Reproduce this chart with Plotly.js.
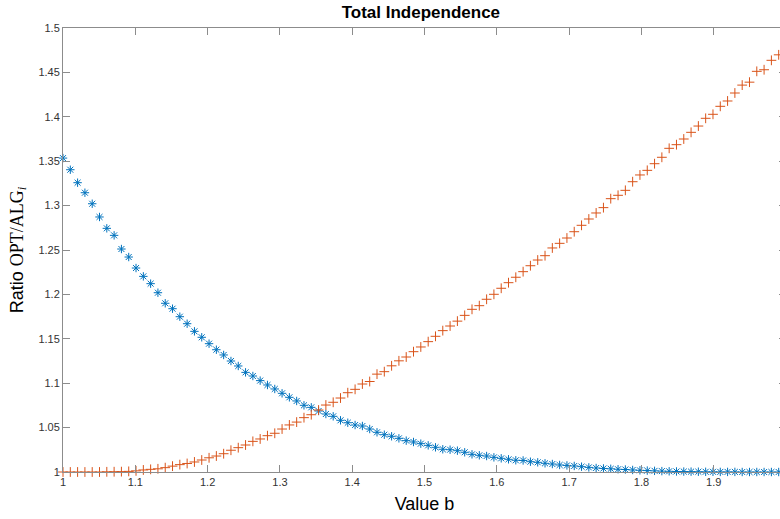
<!DOCTYPE html>
<html>
<head>
<meta charset="utf-8">
<script src="https://cdn.plot.ly/plotly-3.0.1.min.js"></script>
<style>
html, body { margin: 0; padding: 0; overflow: hidden; background: #fff; }
#chart { width: 790px; height: 519px; }
</style>
</head>
<body>
<div id="chart"></div>
<script>
// b values (100 samples from 1 to 2)
const bValues = [
1.0000,1.0101,1.0202,1.0303,1.0404,1.0505,1.0606,1.0707,1.0808,1.0909,
1.1010,1.1111,1.1212,1.1313,1.1414,1.1515,1.1616,1.1717,1.1818,1.1919,
1.2020,1.2121,1.2222,1.2323,1.2424,1.2525,1.2626,1.2727,1.2828,1.2929,
1.3030,1.3131,1.3232,1.3333,1.3434,1.3535,1.3636,1.3737,1.3838,1.3939,
1.4040,1.4141,1.4242,1.4343,1.4444,1.4545,1.4646,1.4747,1.4848,1.4949,
1.5051,1.5152,1.5253,1.5354,1.5455,1.5556,1.5657,1.5758,1.5859,1.5960,
1.6061,1.6162,1.6263,1.6364,1.6465,1.6566,1.6667,1.6768,1.6869,1.6970,
1.7071,1.7172,1.7273,1.7374,1.7475,1.7576,1.7677,1.7778,1.7879,1.7980,
1.8081,1.8182,1.8283,1.8384,1.8485,1.8586,1.8687,1.8788,1.8889,1.8990,
1.9091,1.9192,1.9293,1.9394,1.9495,1.9596,1.9697,1.9798,1.9899,2.0000];

// Series 1 (blue asterisks), decreasing
const ratioAlg1 = [
1.3535,1.3404,1.3258,1.3145,1.3021,1.2872,1.2744,1.2665,1.2511,1.2421,
1.2297,1.2203,1.2121,1.2019,1.1900,1.1839,1.1749,1.1670,1.1584,1.1517,
1.1445,1.1377,1.1318,1.1250,1.1194,1.1122,1.1081,1.1029,1.0980,1.0935,
1.0886,1.0841,1.0800,1.0751,1.0728,1.0687,1.0653,1.0627,1.0582,1.0555,
1.0529,1.0518,1.0484,1.0447,1.0420,1.0402,1.0379,1.0353,1.0338,1.0319,
1.0300,1.0278,1.0256,1.0251,1.0240,1.0222,1.0199,1.0188,1.0180,1.0165,
1.0154,1.0143,1.0132,1.0130,1.0116,1.0109,1.0098,1.0090,1.0079,1.0074,
1.0068,1.0060,1.0052,1.0045,1.0040,1.0036,1.0031,1.0028,1.0023,1.0019,
1.0016,1.0013,1.0010,1.0008,1.0006,1.0005,1.0004,1.0003,1.0002,1.0002,
1.0001,1.0001,1.0001,1.0000,1.0000,1.0000,1.0000,1.0000,1.0000,1.0000];

// Series 2 (orange plus signs), increasing
const ratioAlg2 = [
1.0000,1.0000,1.0000,1.0000,1.0000,1.0000,1.0002,1.0003,1.0004,1.0007,
1.0013,1.0023,1.0030,1.0036,1.0049,1.0066,1.0083,1.0096,1.0113,1.0135,
1.0160,1.0180,1.0206,1.0245,1.0274,1.0304,1.0345,1.0372,1.0409,1.0436,
1.0484,1.0530,1.0562,1.0612,1.0645,1.0698,1.0754,1.0785,1.0833,1.0893,
1.0931,1.0991,1.1019,1.1102,1.1130,1.1196,1.1252,1.1295,1.1355,1.1408,
1.1468,1.1528,1.1592,1.1644,1.1699,1.1764,1.1832,1.1873,1.1945,1.2001,
1.2069,1.2132,1.2193,1.2256,1.2323,1.2387,1.2436,1.2523,1.2575,1.2635,
1.2706,1.2778,1.2849,1.2917,1.2977,1.3078,1.3116,1.3172,1.3269,1.3345,
1.3397,1.3472,1.3544,1.3645,1.3686,1.3750,1.3825,1.3896,1.3983,1.4028,
1.4118,1.4178,1.4268,1.4357,1.4390,1.4512,1.4530,1.4636,1.4698,1.4760];

const xTicks = [1, 1.1, 1.2, 1.3, 1.4, 1.5, 1.6, 1.7, 1.8, 1.9];
const yTicks = [1, 1.05, 1.1, 1.15, 1.2, 1.25, 1.3, 1.35, 1.4, 1.45, 1.5];

const traces = [
  {
    x: bValues, y: ratioAlg1, type: 'scatter', mode: 'markers',
    marker: { symbol: 'asterisk-open', size: 7, color: '#0072BD',
              line: { color: '#0072BD', width: 1 } },
    cliponaxis: false, showlegend: false
  },
  {
    x: bValues, y: ratioAlg2, type: 'scatter', mode: 'markers',
    marker: { symbol: 'cross-thin-open', size: 7, color: '#D95319',
              line: { color: '#D95319', width: 1 } },
    cliponaxis: false, showlegend: false
  }
];

const axisCommon = {
  showgrid: false, zeroline: false, showline: true,
  linecolor: '#8c8c8c', linewidth: 1,
  ticks: 'inside', ticklen: 7, tickwidth: 1, tickcolor: '#8c8c8c',
  mirror: 'ticks',
  tickfont: { family: 'Liberation Sans, Arial, sans-serif', size: 11, color: '#333333' }
};

const layout = {
  width: 790, height: 519,
  margin: { l: 63, r: 4, t: 28, b: 47, pad: 0 },
  paper_bgcolor: '#ffffff', plot_bgcolor: '#ffffff',
  title: {
    text: '<b>Total Independence</b>',
    font: { family: 'Liberation Sans, Arial, sans-serif', size: 17, color: '#000' },
    xref: 'paper', x: 0.495, xanchor: 'center',
    yref: 'container', y: 0.977, yanchor: 'middle'
  },
  xaxis: Object.assign({}, axisCommon, {
    range: [1, 2], tickvals: xTicks,
    title: { text: 'Value b', font: { family: 'Liberation Sans, Arial, sans-serif', size: 18, color: '#000' }, standoff: 10 }
  }),
  yaxis: Object.assign({}, axisCommon, {
    range: [1, 1.5], tickvals: yTicks,
    title: { text: 'Ratio <span style="font-family:Liberation Serif, Times New Roman, serif">OPT/ALG<sub><i>i</i></sub></span>',
             font: { family: 'Liberation Sans, Arial, sans-serif', size: 18, color: '#000' }, standoff: 10 }
  })
};

Plotly.newPlot('chart', traces, layout, { staticPlot: true, displayModeBar: false });
</script>
</body>
</html>
